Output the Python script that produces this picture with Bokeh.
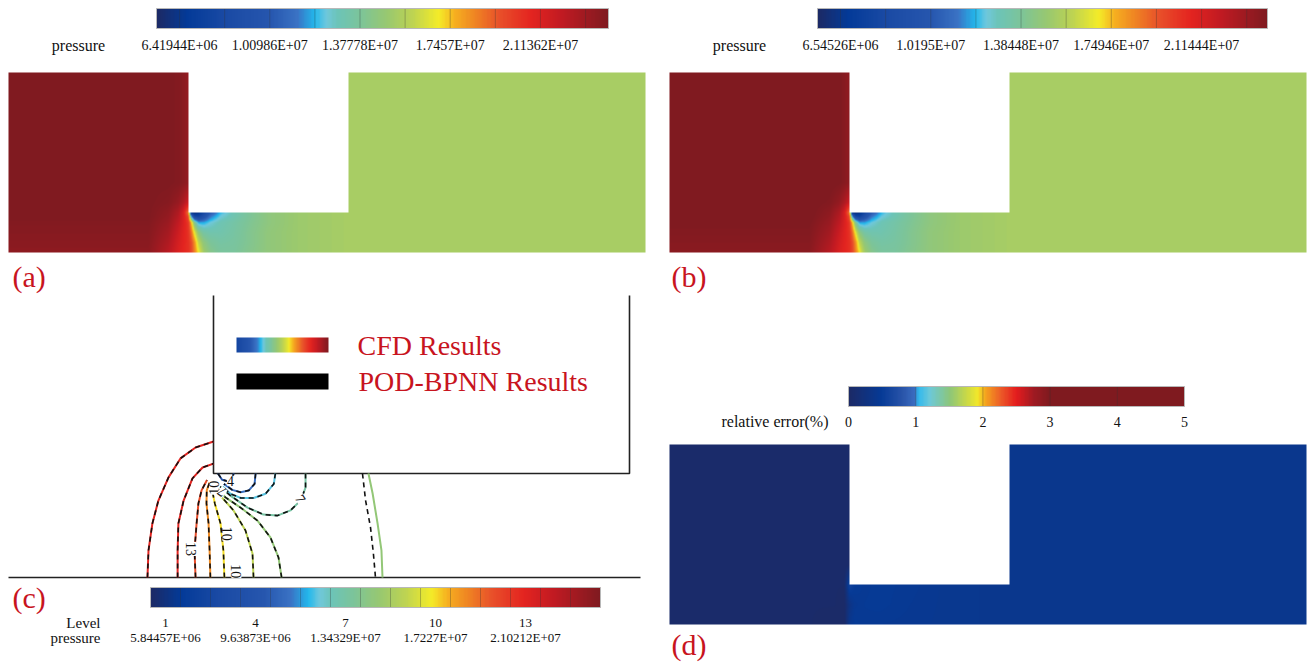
import numpy as np
from bokeh.plotting import figure
from bokeh.models import Range1d, LinearColorMapper
from bokeh.core.properties import value
from bokeh.embed import file_html
from bokeh.resources import INLINE

# ======================= DATA =======================
# colour bar (a): CFD pressure
a_tick_values = [6.41944e6, 1.00986e7, 1.37778e7, 1.7457e7, 2.11362e7]
a_tick_labels = ["6.41944E+06", "1.00986E+07", "1.37778E+07", "1.7457E+07", "2.11362E+07"]
a_range = [5.48e6, 2.391e7]
# colour bar (b): POD-BPNN pressure
b_tick_values = [6.54526e6, 1.0195e7, 1.38448e7, 1.74946e7, 2.11444e7]
b_tick_labels = ["6.54526E+06", "1.0195E+07", "1.38448E+07", "1.74946E+07", "2.11444E+07"]
b_range = [5.615e6, 2.381e7]
# colour bar (c): contour levels
c_level_count = 15
c_levels = [1, 4, 7, 10, 13]
c_level_pressures = ["5.84457E+06", "9.63873E+06", "1.34329E+07", "1.7227E+07", "2.10212E+07"]
# colour bar (d): relative error (%)
d_tick_values = [0, 1, 2, 3, 4, 5]
d_range = [0, 5]

# geometry of the domain (left chamber, throat, right chamber), same units in every panel
left_w, throat_w, right_w, dom_h, throat_h = 180, 160, 297, 180, 40

grid_u = [-40, -20, -10, -5, 0, 3, 6, 10, 15, 22, 32, 45, 60, 80, 110, 160]
grid_v = [0, 10, 20, 30, 36, 40, 50, 70]
pressure_a = [
    [2.35, 2.22, 2.11, 2.07, 2.04, 1.97, 1.86, 1.70, 1.52, 1.42, 1.37, 1.37, 1.41, 1.46, 1.50, 1.53],
    [2.36, 2.25, 2.13, 2.08, 2.04, 1.96, 1.83, 1.60, 1.46, 1.38, 1.35, 1.36, 1.40, 1.46, 1.50, 1.53],
    [2.37, 2.28, 2.16, 2.09, 2.03, 1.89, 1.67, 1.45, 1.35, 1.32, 1.32, 1.35, 1.40, 1.46, 1.50, 1.53],
    [2.38, 2.31, 2.20, 2.11, 2.01, 1.75, 1.40, 1.18, 1.18, 1.24, 1.30, 1.34, 1.39, 1.45, 1.50, 1.53],
    [2.39, 2.33, 2.23, 2.12, 1.95, 1.15, 0.80, 0.76, 0.92, 1.12, 1.24, 1.31, 1.38, 1.45, 1.50, 1.53],
    [2.39, 2.34, 2.25, 2.12, 1.85, 0.62, 0.58, 0.62, 0.78, 1.02, 1.20, 1.30, 1.38, 1.45, 1.50, 1.53],
    [2.39, 2.37, 2.32, 2.25, 2.15, 1.53, 1.53, 1.53, 1.53, 1.53, 1.53, 1.53, 1.53, 1.53, 1.53, 1.53],
    [2.39, 2.39, 2.38, 2.36, 2.33, 1.53, 1.53, 1.53, 1.53, 1.53, 1.53, 1.53, 1.53, 1.53, 1.53, 1.53],
]
# panel (b) is visually indistinguishable from (a)
pressure_b = [row[:] for row in pressure_a]

# relative error field (%)
err_u = [-40, -15, -5, 0, 5, 15, 30, 60, 100, 160]
err_v = [0, 20, 40, 60]
rel_error = [
    [0.04, 0.03, 0.02, 0.40, 0.48, 0.46, 0.45, 0.44, 0.42, 0.40],
    [0.04, 0.04, 0.03, 0.30, 0.44, 0.47, 0.48, 0.45, 0.42, 0.40],
    [0.04, 0.04, 0.04, 0.62, 0.50, 0.46, 0.48, 0.46, 0.42, 0.40],
    [0.04, 0.04, 0.04, 0.04, 0.40, 0.40, 0.40, 0.40, 0.40, 0.40],
]

# contour lines of panel (c) (u from corner, v from floor, same units as the fields)
cfd_levels = [13, 13, 12, 11, 10, 9, 8, 7, 6, 5, 4, 8]
cfd_u = [
    [-25.4, -25.0, -23.5, -21.2, -17.3, -12.7, -6.9, 0.0],
    [-13.8, -13.8, -13.5, -11.5, -8.1, -4.2, 0.0],
    [-6.9, -7.3, -6.5, -5.8, -4.6, -2.5],
    [-1.2, -1.5, -1.9, -2.7, -2.6, -1.5],
    [4.2, 3.8, 2.7, 0.5, -0.5, -0.3],
    [15.4, 15.0, 12.3, 7.7, 1.9, 0.6],
    [26.2, 25.0, 21.9, 16.9, 10.4, 4.6, 1.5],
    [35.4, 35.4, 33.5, 29.6, 24.6, 19.2, 13.1, 6.5, 2.5],
    [23.8, 23.2, 20.0, 15.5, 10.4, 6.5, 3.5],
    [16.2, 15.8, 13.6, 10.4, 7.2, 4.0],
    [1.7, 3.3, 5.5, 7.2, 7.8],
    [59.6, 61.2, 63.1, 64.6, 65.0],
]
cfd_v = [
    [0.0, 10.4, 20.8, 29.6, 38.5, 45.8, 50.0, 52.3],
    [0.0, 10.4, 20.8, 29.6, 38.1, 42.3, 43.8],
    [0.0, 10.4, 20.8, 28.5, 33.5, 37.5],
    [0.0, 10.4, 20.8, 28.5, 33.5, 36.5],
    [0.0, 10.4, 20.8, 28.5, 33.5, 36.5],
    [0.0, 9.2, 18.1, 25.8, 32.3, 35.5],
    [0.0, 7.7, 15.4, 21.9, 26.9, 30.8, 34.5],
    [40.0, 34.6, 29.6, 25.8, 23.8, 24.2, 26.9, 31.5, 35.0],
    [40.0, 36.0, 32.2, 30.6, 30.6, 32.2, 35.0],
    [40.0, 36.0, 33.5, 32.8, 33.7, 36.0],
    [40.0, 37.6, 37.0, 38.3, 40.0],
    [40.0, 32.3, 20.8, 10.4, 0.0],
]
pod_u = cfd_u[:-1] + [[57.3, 58.5, 60.4, 61.5, 62.3]]
pod_v = cfd_v[:-1] + [[40.0, 29.6, 19.2, 9.2, 0.0]]
contour_label_text = ["10", "4", "7", "7", "10", "13", "10"]
contour_label_u = [0.3, 6.5, 3.2, 33.5, 5.3, -8.5, 8.8]
contour_label_v = [34.5, 37.2, 32.8, 30.3, 16.8, 11.0, 2.4]
contour_label_angle = [1.5708, 0.0, 2.5, -1.0, -1.5708, -1.5708, -1.5708]

# ======================= STYLE =======================
pressure_stops = [0.0, 0.065, 0.15, 0.25, 0.31, 0.35, 0.375, 0.40, 0.45, 0.51, 0.57,
                  0.625, 0.66, 0.70, 0.76, 0.83, 0.90, 1.0]
pressure_colors = ["#1c2a66", "#033a98", "#1a4aa4", "#2656ae", "#3a72c4", "#22b8ec", "#70c8dc",
                   "#6cc4b8", "#7cc49a", "#98c870", "#c0d450", "#f4ec28", "#f6b020", "#f08a22",
                   "#e8502a", "#e42420", "#c01a22", "#801a20"]
error_stops = [0, 0.48, 0.8, 0.98, 1.03, 1.2, 1.5, 1.75, 1.92, 2.02, 2.27, 2.5, 2.75, 3.0, 5.0]
error_colors = ["#1c2a66", "#063a96", "#2a55aa", "#3a6cc0", "#30b8ee", "#6cc8d8", "#8cc67a",
                "#c8d848", "#f2e82a", "#f5a81e", "#ec5a28", "#e41c1e", "#a01a22", "#7f1a1f", "#7f1a1f"]
FONT = value("Liberation Serif")
RED = "#c8141e"
INK = "#111111"


def sample_colors(stops, colors, ts):
    rgb = np.array([[int(c[i:i + 2], 16) for i in (1, 3, 5)] for c in colors], float)
    ch = [np.interp(ts, stops, rgb[:, k]) for k in range(3)]
    return ["#%02x%02x%02x" % (int(round(r)), int(round(g)), int(round(b)))
            for r, g, b in zip(*ch)]


pal_p = sample_colors(pressure_stops, pressure_colors, np.linspace(0, 1, 256))
pal_e = sample_colors(error_stops, error_colors, np.linspace(0, 5, 256))

NAN = (0, 0, 0, 0)
map_a = LinearColorMapper(palette=pal_p, low=a_range[0] / 1e7, high=a_range[1] / 1e7, nan_color=NAN)
map_b = LinearColorMapper(palette=pal_p, low=b_range[0] / 1e7, high=b_range[1] / 1e7, nan_color=NAN)
map_c = LinearColorMapper(palette=pal_p, low=0, high=1, nan_color=NAN)
map_d = LinearColorMapper(palette=pal_e, low=d_range[0], high=d_range[1], nan_color=NAN)

# ======================= FIGURE =======================
PW, PH = 1311, 662
p = figure(width=PW, height=PH, x_range=Range1d(0, PW), y_range=Range1d(0, PH),
           output_backend="svg", toolbar_location=None, x_axis_type=None, y_axis_type=None,
           min_border=0)
p.grid.visible = False
p.outline_line_color = None
p.background_fill_color = "white"


def Y(py):
    return PH - py


def txt(x, py, s, size, align="center", color=INK, angle=0.0, **kw):
    p.text(x=[x], y=[Y(py)], text=[s], text_font=FONT, text_font_size=f"{size}px",
           text_align=align, text_baseline="middle", text_color=color, angle=angle, **kw)


def field_image(gu, gv, grid):
    g = np.asarray(grid, float)
    xs = np.arange(left_w + throat_w + right_w) + 0.5 - left_w
    ys = np.arange(dom_h) + 0.5
    rows = np.array([np.interp(xs, gu, r) for r in g])
    img = np.empty((len(ys), len(xs)))
    for j in range(len(xs)):
        img[:, j] = np.interp(ys, gv, rows[:, j])
    mask = (xs[None, :] > 0) & (xs[None, :] < throat_w) & (ys[:, None] > throat_h)
    img[mask] = np.nan
    return img


def draw_field(x0, bottom_py, img, mapper):
    p.image(image=[img], x=x0, y=Y(bottom_py), dw=left_w + throat_w + right_w, dh=dom_h,
            color_mapper=mapper)


def colorbar(x0, x1, top_py, bot_py, vmin, vmax, mapper, divider_values):
    grad = np.linspace(vmin, vmax, 600)[None, :]
    p.image(image=[grad], x=x0, y=Y(bot_py), dw=x1 - x0, dh=bot_py - top_py, color_mapper=mapper)
    dx = [x0 + (v - vmin) / (vmax - vmin) * (x1 - x0) for v in divider_values]
    p.segment(x0=dx, y0=[Y(top_py)] * len(dx), x1=dx, y1=[Y(bot_py)] * len(dx),
              line_color="#333333", line_alpha=0.3, line_width=1)
    p.quad(left=[x0], right=[x1], top=[Y(top_py)], bottom=[Y(bot_py)], fill_color=None,
           line_color="#b8b8b8", line_width=1)


def tick_x(x0, x1, vmin, vmax, v):
    return x0 + (v - vmin) / (vmax - vmin) * (x1 - x0)


# ---------- panel (a) ----------
draw_field(8, 252, field_image(grid_u, grid_v, pressure_a), map_a)
av = [v / 1e7 for v in a_range]
a_step = (a_tick_values[1] - a_tick_values[0]) / 2
a_div = [(a_tick_values[0] + k * a_step) / 1e7 for k in range(10)]
colorbar(156, 608, 8, 28, av[0], av[1], map_a, a_div)
txt(78, 45, "pressure", 16)
for v, s in zip(a_tick_values, a_tick_labels):
    txt(tick_x(156, 608, av[0], av[1], v / 1e7), 45, s, 14)
txt(12, 276, "(a)", 30, align="left", color=RED)

# ---------- panel (b) ----------
draw_field(669, 252, field_image(grid_u, grid_v, pressure_b), map_b)
bv = [v / 1e7 for v in b_range]
b_step = (b_tick_values[1] - b_tick_values[0]) / 2
b_div = [(b_tick_values[0] + k * b_step) / 1e7 for k in range(10)]
colorbar(817, 1267, 8, 28, bv[0], bv[1], map_b, b_div)
txt(739, 45, "pressure", 16)
for v, s in zip(b_tick_values, b_tick_labels):
    txt(tick_x(817, 1267, bv[0], bv[1], v / 1e7), 45, s, 14)
txt(671, 276, "(b)", 30, align="left", color=RED)

# ---------- panel (d) ----------
draw_field(669, 624, field_image(err_u, err_v, rel_error), map_d)
colorbar(848, 1184, 386, 406, d_range[0], d_range[1], map_d, [1, 2, 3, 4])
txt(828, 421, "relative error(%)", 16, align="right")
for v in d_tick_values:
    txt(tick_x(848, 1184, d_range[0], d_range[1], v), 421, str(v), 14)
txt(671, 644, "(d)", 30, align="left", color=RED)

# ---------- panel (c) ----------
C_X0, C_FLOOR, C_S, C_TOP = 213, 577, 2.6, 295


def cx(u):
    return C_X0 + C_S * u


def cy(v):
    return Y(C_FLOOR - C_S * v)


# wall (white block) and floor
p.line(x=[cx(0), cx(0), cx(throat_w), cx(throat_w)],
       y=[Y(C_TOP), cy(throat_h), cy(throat_h), Y(C_TOP)], line_color="#222222", line_width=1.6)
p.line(x=[8, 640], y=[cy(0), cy(0)], line_color="#222222", line_width=1.6)

lvl_colors = sample_colors(pressure_stops, pressure_colors,
                           [(k - 0.5) / c_level_count for k in range(1, c_level_count + 1)])
for lv, us, vs in zip(cfd_levels, cfd_u, cfd_v):
    p.line(x=[cx(u) for u in us], y=[cy(v) for v in vs], line_color=lvl_colors[lv - 1],
           line_width=2.0)
for us, vs in zip(pod_u, pod_v):
    p.line(x=[cx(u) for u in us], y=[cy(v) for v in vs], line_color="#111111",
           line_width=1.6, line_dash="5 4")
for s, u, v, a in zip(contour_label_text, contour_label_u, contour_label_v, contour_label_angle):
    txt(cx(u), PH - cy(v), s, 14, angle=a, background_fill_color="white")

# legend inside the wall block
leg = np.linspace(0.12, 1.0, 200)[None, :]
p.image(image=[leg], x=236, y=Y(352), dw=92, dh=15, color_mapper=map_c)
p.quad(left=[236], right=[328], top=[Y(373)], bottom=[Y(389)], fill_color="black", line_color=None)
txt(357, 345, "CFD Results", 28, align="left", color=RED)
txt(358, 381, "POD-BPNN Results", 28, align="left", color=RED)

# level colour bar
colorbar(150, 600, 587, 607, 0, 1, map_c, [k / c_level_count for k in range(1, c_level_count)])
txt(100, 622, "Level", 15, align="right")
txt(100, 637, "pressure", 15, align="right")
for k, s in zip(c_levels, c_level_pressures):
    xk = tick_x(150, 600, 0, 1, (k - 0.5) / c_level_count)
    txt(xk, 622, str(k), 13)
    txt(xk, 637, s, 13)
txt(12, 597, "(c)", 30, align="left", color=RED)

open("out.html", "w").write(file_html(p, INLINE))
